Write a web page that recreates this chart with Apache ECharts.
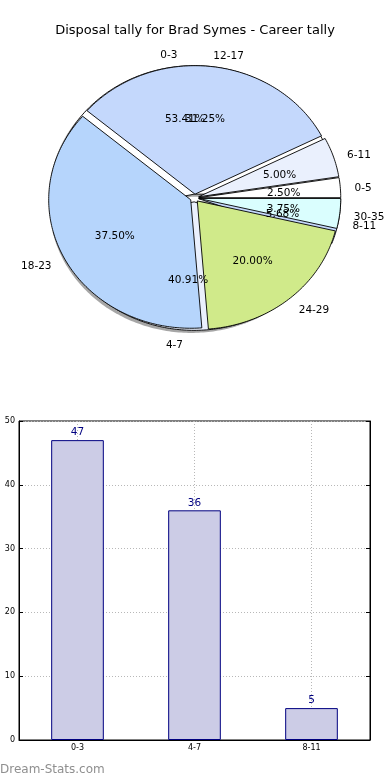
<!DOCTYPE html>
<html>
<head>
<meta charset="utf-8">
<script src="https://cdn.jsdelivr.net/npm/echarts@6/dist/echarts.min.js"></script>
<style>
html,body{margin:0;padding:0;background:#fff;}
#chart{width:390px;height:780px;}
</style>
</head>
<body>
<div id="chart"></div>
<script>
// ---- data ----
const titleText = 'Disposal tally for Brad Symes - Career tally';
const pie1Labels = ['0-3', '4-7', '8-11'];
const pie1Values = [47, 36, 5];
const pie2Labels = ['0-5', '6-11', '12-17', '18-23', '24-29', '30-35'];
const pie2Values = [2, 4, 25, 30, 16, 3];
const barCategories = ['0-3', '4-7', '8-11'];
const barValues = [47, 36, 5];
const yTicks = [0, 10, 20, 30, 40, 50];

// ---- style / layout ----
const palette = ['#ffffff', '#eaf0fd', '#c4d8fc', '#b6d5fc', '#d0ea8a', '#dafefe'];
const PIE = { cx: 194.5, cy: 198, rx: 142, ry: 128.5, explode: 0.03, labelDy: 2 };
const FONT = 'DejaVu Sans';

function geom(values, i) {
  const total = values.reduce((a, b) => a + b, 0);
  let before = 0;
  for (let k = 0; k < i; k++) before += values[k];
  const a0 = before / total * Math.PI * 2;
  const a1 = (before + values[i]) / total * Math.PI * 2;
  const mid = (a0 + a1) / 2;
  const ox = PIE.cx + PIE.explode * PIE.rx * Math.cos(mid);
  const oy = PIE.cy - PIE.explode * PIE.ry * Math.sin(mid);
  return { total, a0, a1, mid, ox, oy };
}

function wedgePoints(g, dx, dy) {
  const pts = [[g.ox + dx, g.oy + dy]];
  const n = Math.max(2, Math.ceil((g.a1 - g.a0) / (Math.PI / 180)));
  for (let s = 0; s <= n; s++) {
    const t = g.a0 + (g.a1 - g.a0) * s / n;
    pts.push([g.ox + dx + PIE.rx * Math.cos(t), g.oy + dy - PIE.ry * Math.sin(t)]);
  }
  return pts;
}

function wedgeSeries(values, z, shadow) {
  return {
    type: 'custom', coordinateSystem: 'none', silent: true, z: z,
    data: values.map((v, i) => [i, v]),
    renderItem: function (params) {
      const g = geom(values, params.dataIndex);
      if (shadow) {
        return {
          type: 'polygon',
          shape: { points: wedgePoints(g, -0.02 * PIE.rx, 0.02 * PIE.ry) },
          style: { fill: 'rgba(77,77,77,0.5)', stroke: null }
        };
      }
      return {
        type: 'polygon',
        shape: { points: wedgePoints(g, 0, 0) },
        style: { fill: palette[params.dataIndex % palette.length], stroke: '#000', lineWidth: 0.9 }
      };
    }
  };
}

function labelSeries(values, labels, z) {
  return {
    type: 'custom', coordinateSystem: 'none', silent: true, z: z,
    data: values.map((v, i) => [i, v]),
    renderItem: function (params) {
      const i = params.dataIndex;
      const g = geom(values, i);
      const c = Math.cos(g.mid), s = Math.sin(g.mid);
      return {
        type: 'group',
        children: [
          {
            type: 'text',
            style: {
              x: g.ox + 1.1 * PIE.rx * c, y: g.oy - 1.1 * PIE.ry * s + PIE.labelDy,
              text: labels[i], fill: '#000', font: '10.5px "' + FONT + '"',
              align: c > 0 ? 'left' : 'right', verticalAlign: 'middle'
            }
          },
          {
            type: 'text',
            style: {
              x: g.ox + 0.6 * PIE.rx * c, y: g.oy - 0.6 * PIE.ry * s + PIE.labelDy,
              text: (values[i] / g.total * 100).toFixed(2) + '%', fill: '#000',
              font: '10.5px "' + FONT + '"', align: 'center', verticalAlign: 'middle'
            }
          }
        ]
      };
    }
  };
}

const chart = echarts.init(document.getElementById('chart'), null, { renderer: 'canvas' });

const option = {
  animation: false,
  backgroundColor: '#ffffff',
  title: {
    text: titleText, left: 'center', top: 19,
    textStyle: { fontFamily: FONT, fontSize: 13, fontWeight: 'normal', color: '#000' }
  },
  grid: {
    left: 19, right: 20, top: 421, bottom: 40,
    show: true, borderColor: '#000', borderWidth: 1, backgroundColor: 'transparent'
  },
  xAxis: {
    type: 'category', data: barCategories,
    axisLine: { show: true, lineStyle: { color: '#000' } },
    axisTick: { show: true, alignWithLabel: true, inside: true, length: 4, lineStyle: { color: '#000' } },
    axisLabel: { fontFamily: FONT, fontSize: 8, color: '#000', margin: 4 },
    splitLine: { show: false }
  },
  yAxis: [{
    type: 'value', min: 0, max: 50, interval: 10,
    axisLine: { show: true, lineStyle: { color: '#000' } },
    axisTick: { show: true, inside: true, length: 4, lineStyle: { color: '#000' } },
    axisLabel: { fontFamily: FONT, fontSize: 8, color: '#000', margin: 4 },
    splitLine: { show: true, lineStyle: { color: '#b8b8b8', type: [1, 2], width: 1 } }
  }, {
    type: 'value', min: 0, max: 50, interval: 10, position: 'right',
    axisLine: { show: true, lineStyle: { color: '#000' } },
    axisTick: { show: true, inside: true, length: 4, lineStyle: { color: '#000' } },
    axisLabel: { show: false }, splitLine: { show: false }
  }],
  series: [
    {
      type: 'bar', data: barValues, barWidth: '45%', z: 2,
      itemStyle: { color: '#ccccE6', borderColor: '#000080', borderWidth: 1 },
      label: { show: true, position: 'top', distance: 2, color: '#000080', fontFamily: FONT, fontSize: 10.5 },
      markLine: {
        silent: true, symbol: 'none', label: { show: false }, z: 1,
        lineStyle: { color: '#b8b8b8', type: [1, 2], width: 1 },
        data: barCategories.map(c => ({ xAxis: c }))
      }
    },
    wedgeSeries(pie1Values, 10, true),
    wedgeSeries(pie1Values, 11, false),
    wedgeSeries(pie2Values, 12, false),
    labelSeries(pie1Values, pie1Labels, 13),
    labelSeries(pie2Values, pie2Labels, 14)
  ],
  graphic: [{
    type: 'text', left: 0, top: 764,
    style: { text: 'Dream-Stats.com', fill: '#8f8f8f', font: '12px "' + FONT + '"' }
  }]
};
chart.setOption(option);
</script>
</body>
</html>
